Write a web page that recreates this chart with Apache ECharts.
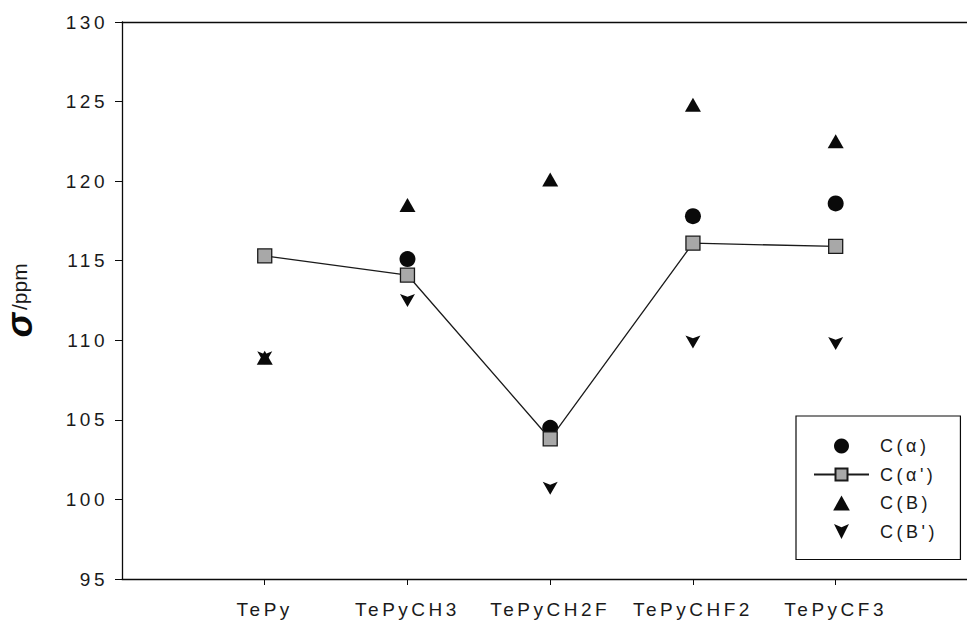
<!DOCTYPE html>
<html>
<head>
<meta charset="utf-8">
<script src="https://cdn.jsdelivr.net/npm/echarts@6/dist/echarts.min.js"></script>
<style>
  html, body { margin: 0; padding: 0; background: #fff; }
  #chart { width: 967px; height: 622px; }
</style>
</head>
<body>
<div id="chart"></div>
<script>
// Compounds along the x axis (positions 1..5)
const categories = ['TePy', 'TePyCH3', 'TePyCH2F', 'TePyCHF2', 'TePyCF3'];

// Shielding constants, ppm
const cAlpha      = [null,  115.1, 104.5, 117.8, 118.6];
const cAlphaPrime = [115.3, 114.1, 103.8, 116.1, 115.9];
const cB          = [108.9, 118.5, 120.1, 124.8, 122.5];
const cBPrime     = [108.9, 112.5, 100.7, 109.9, 109.8];

// y axis ticks
const yTicks = [95, 100, 105, 110, 115, 120, 125, 130];

const pairs = arr => arr.map((v, i) => [i + 1, v]).filter(p => p[1] !== null);

const FONT = 'Liberation Sans, Arial, sans-serif';
const INK = '#0a0a0a';
const TXT = '#1a1a1a';

// marker outlines
const upTri = 'path://M5,0 L10,9 L0,9 Z';
const downTri = 'path://M0,0 L5,2.2 L10,0 L5,10 Z';

const chart = echarts.init(document.getElementById('chart'), null, { renderer: 'svg' });

chart.setOption({
  animation: false,
  backgroundColor: '#fff',
  textStyle: { fontFamily: FONT },
  grid: { left: 122, top: 22, right: 0, bottom: 43, containLabel: false, outerBoundsMode: 'none' },
  xAxis: [{
    type: 'value',
    min: 0,
    max: 5.92,
    interval: 1,
    splitLine: { show: false },
    axisLine: { show: true, onZero: false, lineStyle: { color: INK, width: 1.3 } },
    axisTick: { show: true, inside: false, length: 6, customValues: [1, 2, 3, 4, 5], lineStyle: { color: INK } },
    axisLabel: {
      customValues: [1, 2, 3, 4, 5],
      formatter: v => categories[Math.round(v) - 1] || '',
      fontSize: 19, color: TXT, margin: 21, fontFamily: FONT
    }
  }, {
    // top frame line
    type: 'value', position: 'top', min: 0, max: 5.92,
    splitLine: { show: false },
    axisLine: { show: true, lineStyle: { color: INK, width: 1.3 } },
    axisTick: { show: false }, axisLabel: { show: false }
  }],
  yAxis: {
    type: 'value',
    min: 95, max: 130, interval: 5,
    splitLine: { show: false },
    axisLine: { show: true, onZero: false, lineStyle: { color: INK, width: 1.3 } },
    axisTick: { show: true, length: 7, lineStyle: { color: INK } },
    axisLabel: {
      fontSize: 19, color: TXT, margin: 14, fontFamily: FONT,
      customValues: yTicks
    },
    name: '{s|σ}{p|/ppm}',
    nameLocation: 'middle',
    nameRotate: 90,
    nameGap: 88,
    nameTextStyle: {
      rich: {
        s: { fontSize: 37, lineHeight: 30, fontWeight: 'bold', fontStyle: 'italic', color: INK, fontFamily: FONT },
        p: { fontSize: 21, lineHeight: 24, color: TXT, fontFamily: FONT, padding: [0, 0, 0, 3] }
      }
    }
  },
  legend: {
    orient: 'vertical',
    left: 796, top: 416,
    padding: [20, 40, 18, 17],
    itemWidth: 55,
    itemHeight: 15,
    itemGap: 8.5,
    borderColor: INK,
    borderWidth: 1.2,
    backgroundColor: '#fff',
    textStyle: { fontSize: 18, lineHeight: 20, color: TXT, fontFamily: FONT, padding: [0, 0, 0, 6] },
    data: [
      { name: 'C(α)' },
      { name: "C(α')" },
      { name: 'C(B)' },
      { name: "C(B')" }
    ]
  },
  series: [
    {
      name: "C(α')",
      type: 'line',
      data: pairs(cAlphaPrime),
      symbol: 'rect',
      symbolSize: 14,
      z: 3,
      lineStyle: { color: '#1a1a1a', width: 1.3 },
      itemStyle: { color: '#a8a8a8', borderColor: '#1a1a1a', borderWidth: 1.3, opacity: 1 }
    },
    {
      name: 'C(α)',
      type: 'scatter',
      data: pairs(cAlpha),
      symbol: 'circle',
      symbolSize: 16,
      z: 2,
      itemStyle: { color: INK, opacity: 1 }
    },
    {
      name: 'C(B)',
      type: 'scatter',
      data: pairs(cB),
      symbol: upTri,
      symbolSize: [16, 14],
      z: 4,
      itemStyle: { color: INK, opacity: 1 }
    },
    {
      name: "C(B')",
      type: 'scatter',
      data: pairs(cBPrime),
      symbol: downTri,
      symbolSize: [15, 13],
      z: 4,
      itemStyle: { color: INK, opacity: 1 }
    }
  ]
});

// Tick and legend labels are set with open letter spacing; the axis title stays tight.
function spaceLabels() {
  document.querySelectorAll('#chart text').forEach(t => {
    const s = t.textContent;
    if (s.indexOf('σ') >= 0 || s.indexOf('ppm') >= 0) return;
    t.style.letterSpacing = '3.5px';
  });
}
chart.on('finished', spaceLabels);
spaceLabels();
</script>
</body>
</html>
